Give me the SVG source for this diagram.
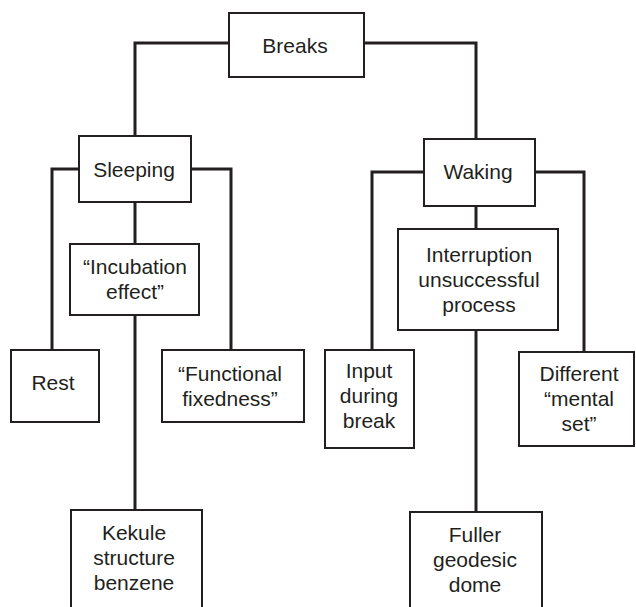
<svg xmlns="http://www.w3.org/2000/svg" width="636" height="607" viewBox="0 0 636 607">
<style>
.box{fill:#fff;stroke:#231f20;stroke-width:2}
.conn{fill:none;stroke:#231f20;stroke-width:3}
text{font-family:"Liberation Sans",Arial,sans-serif;font-size:21px;fill:#231f20;text-anchor:middle}
</style>
<rect width="636" height="607" fill="#fff"/>
<g id="connectors">
<path class="conn" d="M229,43 H135 V136"/>
<path class="conn" d="M364,43 H476 V139"/>
<path class="conn" d="M79,169 H52 V350"/>
<path class="conn" d="M191,169 H231 V350"/>
<path class="conn" d="M135,202 V244"/>
<path class="conn" d="M135,315 V510"/>
<path class="conn" d="M424,172 H372 V350"/>
<path class="conn" d="M535,172 H584 V352"/>
<path class="conn" d="M476,206 V229"/>
<path class="conn" d="M476,330 V512"/>
</g>
<g id="breaks"><rect class="box" x="229" y="13" width="135" height="64"/><text x="295" y="53">Breaks</text></g>
<g id="sleeping"><rect class="box" x="79" y="136" width="112" height="66"/><text x="134" y="177">Sleeping</text></g>
<g id="waking"><rect class="box" x="424" y="139" width="111" height="67"/><text x="478" y="179">Waking</text></g>
<g id="incubation"><rect class="box" x="70" y="244" width="129" height="71"/><text x="135" y="274">“Incubation</text><text x="135" y="299">effect”</text></g>
<g id="interruption"><rect class="box" x="398" y="229" width="160" height="101"/><text x="479" y="262">Interruption</text><text x="479" y="287">unsuccessful</text><text x="479" y="312">process</text></g>
<g id="rest"><rect class="box" x="11" y="350" width="88" height="72"/><text x="53" y="390">Rest</text></g>
<g id="functional"><rect class="box" x="162" y="350" width="142" height="72"/><text x="230" y="381">“Functional</text><text x="230" y="406">fixedness”</text></g>
<g id="input"><rect class="box" x="325" y="350" width="89" height="98"/><text x="369" y="378">Input</text><text x="369" y="403">during</text><text x="369" y="428">break</text></g>
<g id="different"><rect class="box" x="519" y="352" width="115" height="94"/><text x="579" y="381">Different</text><text x="579" y="406">“mental</text><text x="579" y="431">set”</text></g>
<g id="kekule"><rect class="box" x="71" y="510" width="131" height="110"/><text x="134" y="540">Kekule</text><text x="134" y="565">structure</text><text x="134" y="590">benzene</text></g>
<g id="fuller"><rect class="box" x="410" y="512" width="132" height="110"/><text x="475" y="542">Fuller</text><text x="475" y="567">geodesic</text><text x="475" y="592">dome</text></g>
</svg>
